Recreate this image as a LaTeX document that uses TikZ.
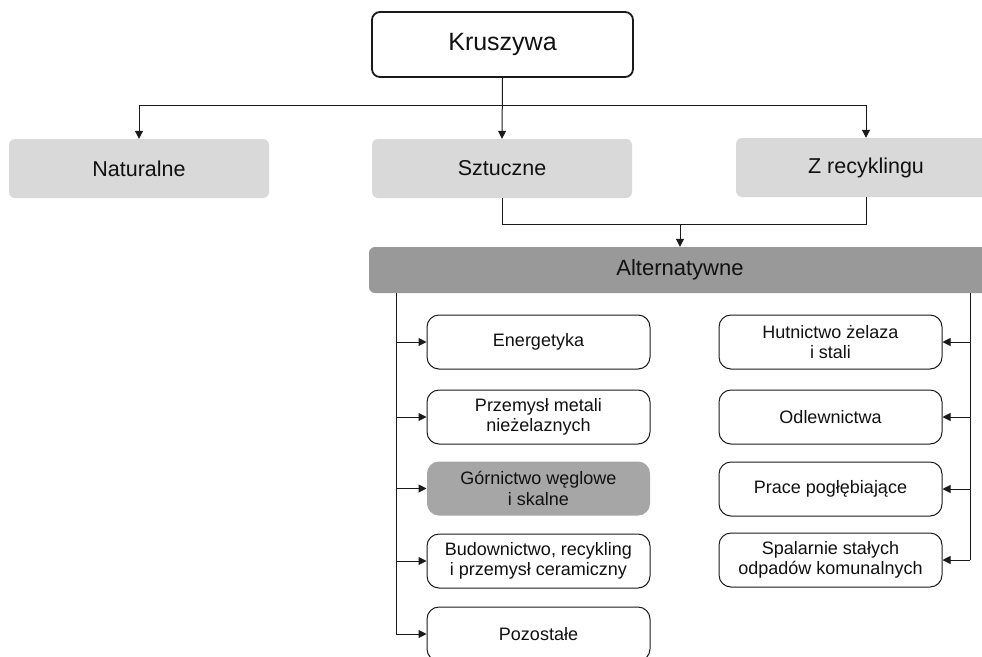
\documentclass[tikz,border=0pt]{standalone}
\usepackage{fontspec}
\setmainfont{Liberation Sans}
\usetikzlibrary{arrows.meta}
\definecolor{lightbox}{HTML}{D9D9D9}
\definecolor{altbar}{HTML}{999999}
\definecolor{darkbox}{HTML}{A6A6A6}
\definecolor{txt}{HTML}{111111}
\definecolor{ln}{HTML}{1A1A1A}
\begin{document}
\begin{tikzpicture}[x=1pt,y=-1pt,
  topbox/.style={draw=ln,line width=1.8pt,rounded corners=8pt,fill=white,
    minimum width=261pt,minimum height=65pt,inner sep=0pt,
    font=\fontsize{25}{29}\selectfont,text=txt},
  catbox/.style={fill=lightbox,rounded corners=6pt,minimum width=260pt,
    minimum height=59pt,inner sep=0pt,font=\fontsize{21.5}{25}\selectfont,text=txt},
  altbox/.style={fill=altbar,rounded corners=6pt,minimum width=622pt,
    minimum height=46pt,inner sep=0pt,font=\fontsize{22}{26}\selectfont,text=txt},
  smallbox/.style={draw=ln,line width=1pt,rounded corners=12pt,fill=white,
    minimum width=223pt,minimum height=54pt,inner sep=0pt,align=center,
    font=\fontsize{18}{20.5}\selectfont,text=txt},
  graybox/.style={smallbox,draw=none,fill=darkbox},
  conn/.style={draw=ln,line width=1pt},
  arr/.style={conn,-{Triangle[length=8pt,width=8pt]}}
]
\useasboundingbox (0,0) rectangle (982,656);
\clip (0,0) rectangle (982,656);

\node[topbox] (k) at (502.5,44.5) {Kruszywa};
\node[catbox] (n) at (139,168.5) {Naturalne};
\node[catbox] (s) at (502,168.5) {Sztuczne};
\node[catbox] (z) at (866,167.5) {Z recyklingu};
\node[altbox] (alt) at (680,270) {Alternatywne};

\node[smallbox] (l1) at (538.5,342) {Energetyka};
\node[smallbox] (l2) at (538.5,417) {Przemysł metali\\nieżelaznych};
\node[graybox]  (l3) at (538.5,488.5) {Górnictwo węglowe\\i skalne};
\node[smallbox] (l4) at (538.5,561) {Budownictwo, recykling\\i przemysł ceramiczny};
\node[smallbox] (l5) at (538.5,634) {Pozostałe};

\node[smallbox] (r1) at (830.5,342) {Hutnictwo żelaza\\i stali};
\node[smallbox] (r2) at (830.5,417) {Odlewnictwa};
\node[smallbox] (r3) at (830.5,489) {Prace pogłębiające};
\node[smallbox] (r4) at (830.5,560) {Spalarnie stałych\\odpadów komunalnych};

\coordinate (hy) at (0,105);
\coordinate (jy) at (0,224);
\coordinate (lx) at (396,0);
\coordinate (rx) at (970,0);

\draw[arr] (k.south) -- (s.north);
\draw[arr] (k.south) |- (n.north |- hy) -- (n.north);
\draw[arr] (k.south) |- (z.north |- hy) -- (z.north);

\draw[conn] (s.south) |- (z.south |- jy) -- (z.south);
\draw[arr] (alt.north |- jy) -- (alt.north);

\draw[conn] (lx |- alt.south) -- (lx |- l5.west);
\foreach \b in {l1,l2,l3,l4,l5}
  \draw[arr] (lx |- \b.west) -- (\b.west);
\draw[conn] (rx |- alt.south) -- (rx |- r4.east);
\foreach \b in {r1,r2,r3,r4}
  \draw[arr] (rx |- \b.east) -- (\b.east);
\end{tikzpicture}
\end{document}
